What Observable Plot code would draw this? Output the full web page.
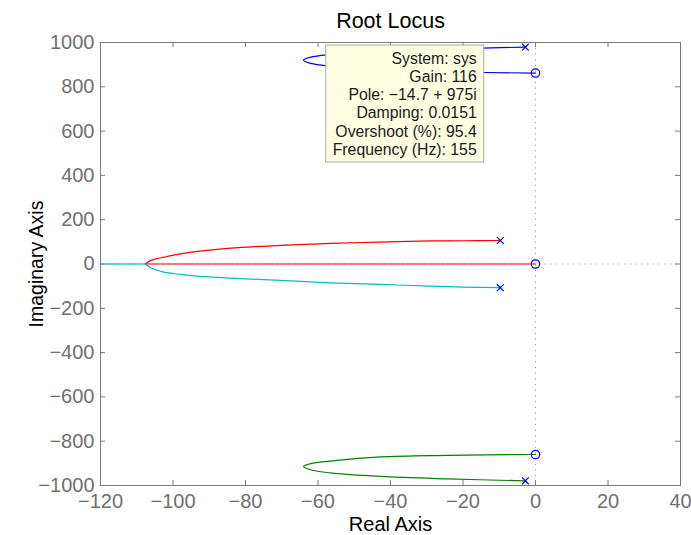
<!DOCTYPE html>
<html><head><meta charset="utf-8">
<script src="https://cdn.jsdelivr.net/npm/d3@7"></script>
<script src="https://cdn.jsdelivr.net/npm/@observablehq/plot@0.6"></script>
<style>body{margin:0;background:#fff} svg{display:block}</style>
</head><body><div id="chart"></div>
<script>
const title = "Root Locus";
const xLabel = "Real Axis";
const yLabel = "Imaginary Axis";
const xTicks = [-120, -100, -80, -60, -40, -20, 0, 20, 40];
const yTicks = [-1000, -800, -600, -400, -200, 0, 200, 400, 600, 800, 1000];

// Branch 1 (blue): pole near -2.8+979i to zero at 0+862i
const blueX = [-2.8, -14.7, -24.4, -42.8, -56.6, -62, -64, -62, -56.6, -42.8, -24.4, 0];
const blueY = [979, 975, 971, 961, 946, 934, 920, 906, 893, 875, 867, 862];
// Branch 2 (green): conjugate
const greenX = [-2.8, -24.4, -42.8, -56.6, -62, -64, -62, -56.6, -42.8, -24.4, 0];
const greenY = [-979, -970, -959, -943, -929, -914, -901, -890, -871, -864, -860];
// Branch 3 (red): pole -9.7+106i to breakaway, then along real axis to zero at 0
const redX = [-9.7, -20, -29, -42.8, -56.6, -70.3, -84.1, -93.3, -98, -102.5, -105, -106.5, -107.6];
const redY = [106, 105, 104, 99, 93, 84, 72, 57, 46, 31, 22, 13, 0];
const redAxisX = [-107.6, 0];
const redAxisY = [0, 0];
// Branch 4 (cyan): pole -9.7-107i to breakaway, then along real axis to -infinity
const cyanX = [-9.7, -20, -29, -42.8, -56.6, -70.3, -84.1, -93.3, -98, -102.5, -105, -106.5, -107.6];
const cyanY = [-107, -104, -100, -92, -85, -74, -64, -55, -47, -37, -25, -14, 0];
const cyanAxisX = [-120, -107.6];
const cyanAxisY = [0, 0];

const poleX = [-2.8, -2.8, -9.7, -9.7];
const poleY = [979, -979, 106, -107];
const zeroX = [0, 0, 0];
const zeroY = [862, 0, -860];

const cursorPoint = [-14.7, 975];
const cursorText = ["System: sys", "Gain: 116", "Pole: \u221214.7 + 975i", "Damping: 0.0151", "Overshoot (%): 95.4", "Frequency (Hz): 155"];

const W = 691, H = 535, mL = 100, mR = 11, mT = 42, mB = 50;
const innerW = W - mL - mR, innerH = H - mT - mB;
const tickLen = 5;
const axisColor = "#7a7a7a";
const labelColor = "#707070";
const fmt = d3.format("");

const pts = (xs, ys) => xs.map((x, i) => ({x, y: ys[i]}));

const plot = Plot.plot({
  width: W, height: H,
  marginLeft: mL, marginRight: mR, marginTop: mT, marginBottom: mB,
  style: {fontFamily: "'Liberation Sans', Arial, Helvetica, sans-serif", fontSize: "20px", background: "#fff"},
  x: {domain: [-120, 40], label: null},
  y: {domain: [-1000, 1000], label: null},
  marks: [
    Plot.ruleX([0], {stroke: "#9a9a9a", strokeDasharray: "1.2,4.5"}),
    Plot.ruleY([0], {stroke: "#9a9a9a", strokeDasharray: "1.2,4.5"}),
    Plot.line(pts(cyanAxisX, cyanAxisY), {x: "x", y: "y", stroke: "#00bfbf", strokeWidth: 2, strokeOpacity: 0.6}),
    Plot.line(pts(redAxisX, redAxisY), {x: "x", y: "y", stroke: "#ff0000", strokeWidth: 2.2, strokeOpacity: 0.5}),
    Plot.line(pts(blueX, blueY), {x: "x", y: "y", stroke: "#0000ff", strokeWidth: 1.2, curve: "catmull-rom"}),
    Plot.line(pts(greenX, greenY), {x: "x", y: "y", stroke: "#008000", strokeWidth: 1.2, curve: "catmull-rom"}),
    Plot.line(pts(redX, redY), {x: "x", y: "y", stroke: "#ff0000", strokeWidth: 1.2, curve: "catmull-rom"}),
    Plot.line(pts(cyanX, cyanY), {x: "x", y: "y", stroke: "#00bfbf", strokeWidth: 1.2, curve: "catmull-rom"}),
    Plot.dot(pts(poleX, poleY), {x: "x", y: "y", symbol: "times", r: 3.2, stroke: "#0000ff", strokeWidth: 1.2}),
    Plot.dot(pts(zeroX, zeroY), {x: "x", y: "y", symbol: "circle", r: 4.2, stroke: "#0000ff", strokeWidth: 1.2, fill: "none"}),
    Plot.frame({stroke: axisColor}),
    Plot.tickX(xTicks, {x: d => d, stroke: axisColor, insetTop: innerH - tickLen}),
    Plot.tickX(xTicks, {x: d => d, stroke: axisColor, insetBottom: innerH - tickLen}),
    Plot.tickY(yTicks, {y: d => d, stroke: axisColor, insetRight: innerW - tickLen}),
    Plot.tickY(yTicks, {y: d => d, stroke: axisColor, insetLeft: innerW - tickLen}),
    Plot.axisX(xTicks, {tickSize: 0, tickPadding: 8, tickFormat: fmt, color: labelColor, fontSize: 20, label: null}),
    Plot.axisY(yTicks, {tickSize: 0, tickPadding: 6, tickFormat: fmt, color: labelColor, fontSize: 20, label: null}),
    Plot.text([title], {text: d => d, frameAnchor: "top", dy: -21, lineAnchor: "middle", textAnchor: "middle", fontSize: 21.5, fill: "#000"}),
    Plot.text([xLabel], {text: d => d, frameAnchor: "bottom", dy: 39, lineAnchor: "middle", textAnchor: "middle", fontSize: 20, fill: "#000"}),
    Plot.text([yLabel], {text: d => d, frameAnchor: "left", dx: -64, rotate: -90, lineAnchor: "middle", textAnchor: "middle", fontSize: 19.5, fill: "#000"})
  ]
});

// Data cursor box anchored at the cursor point via the plot's scales
const sx = plot.scale("x"), sy = plot.scale("y");
const px = sx.apply(cursorPoint[0]), py = sy.apply(cursorPoint[1]);
const g = d3.select(plot).append("g");
g.append("rect")
  .attr("x", px - 156).attr("y", py - 2.5)
  .attr("width", 158).attr("height", 117)
  .attr("fill", "#ffffe1").attr("stroke", "#a8a8a8");
g.selectAll("text").data(cursorText).join("text")
  .attr("x", px - 5).attr("y", (d, i) => py + 16 + i * 18.3)
  .attr("text-anchor", "end").attr("font-size", 15.8).attr("fill", "#1a1a1a")
  .text(d => d);

document.getElementById("chart").appendChild(plot);
</script>
</body></html>
